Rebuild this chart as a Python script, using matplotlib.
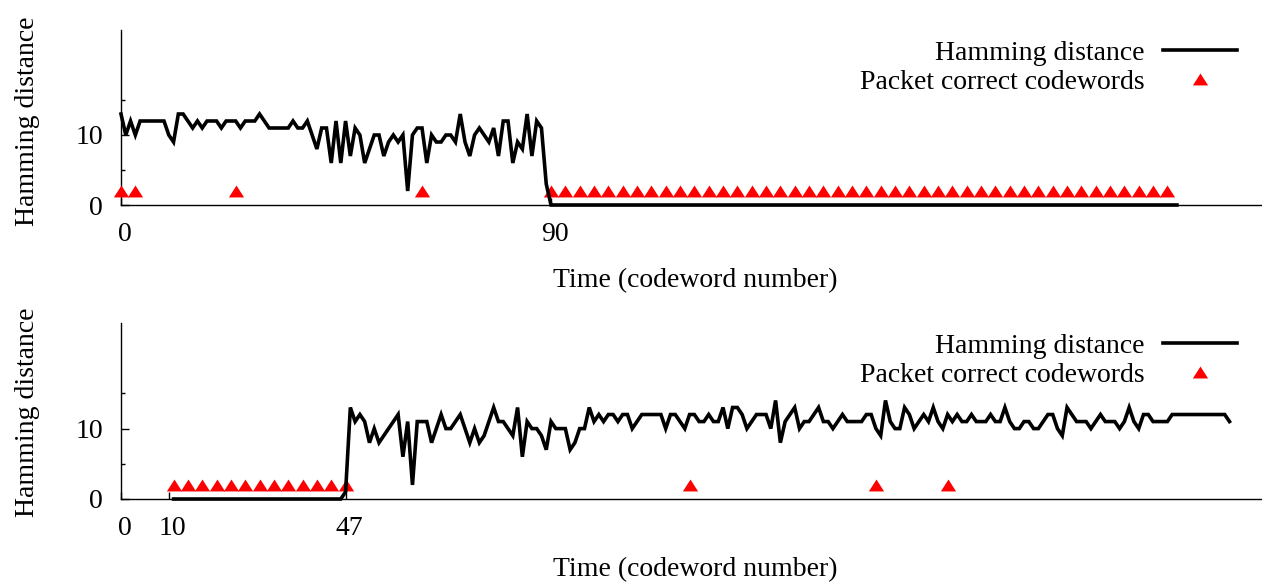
import numpy as np
import matplotlib
matplotlib.use("Agg")
import matplotlib.pyplot as plt
from matplotlib.ticker import FixedLocator
from matplotlib.transforms import ScaledTranslation

plt.rcParams['font.family'] = ['Liberation Serif', 'DejaVu Serif']
plt.rcParams['font.size'] = 20

# ---------------- data ----------------
top_start = 0
top_hamming = [
    13, 10, 12, 10, 12, 12, 12, 12, 12, 12,
    10, 9, 13, 13, 12, 11, 12, 11, 12, 12,
    12, 11, 12, 12, 12, 11, 12, 12, 12, 13,
    12, 11, 11, 11, 11, 11, 12, 11, 11, 12,
    10, 8, 11, 11, 6, 12, 6, 12, 7, 11,
    10, 6, 8, 10, 10, 7, 9, 10, 9, 10,
    2, 10, 11, 11, 6, 10, 9, 9, 10, 10,
    9, 13, 9, 7, 10, 11, 10, 9, 11, 7,
    12, 12, 6, 9, 8, 13, 7, 12, 11, 3,
    0, 0, 0, 0, 0, 0, 0, 0, 0, 0,
    0, 0, 0, 0, 0, 0, 0, 0, 0, 0,
    0, 0, 0, 0, 0, 0, 0, 0, 0, 0,
    0, 0, 0, 0, 0, 0, 0, 0, 0, 0,
    0, 0, 0, 0, 0, 0, 0, 0, 0, 0,
    0, 0, 0, 0, 0, 0, 0, 0, 0, 0,
    0, 0, 0, 0, 0, 0, 0, 0, 0, 0,
    0, 0, 0, 0, 0, 0, 0, 0, 0, 0,
    0, 0, 0, 0, 0, 0, 0, 0, 0, 0,
    0, 0, 0, 0, 0, 0, 0, 0, 0, 0,
    0, 0, 0, 0, 0, 0, 0, 0, 0, 0,
    0, 0, 0, 0, 0, 0, 0, 0, 0, 0,
    0, 0, 0, 0, 0, 0, 0, 0, 0, 0,
    0, 0,
]
top_correct_x = [0, 3, 24, 63,
                 90, 93, 96, 99, 102, 105, 108, 111, 114, 117, 120, 123, 126, 129,
                 132, 135, 138, 141, 144, 147, 150, 153, 156, 159, 162, 165, 168,
                 171, 174, 177, 180, 183, 186, 189, 192, 195, 198, 201, 204, 207,
                 210, 213, 216, 219]
top_correct_y = [2, 2, 2, 2,
                 2, 2, 2, 2, 2, 2, 2, 2, 2, 2, 2, 2, 2, 2,
                 2, 2, 2, 2, 2, 2, 2, 2, 2, 2, 2, 2, 2,
                 2, 2, 2, 2, 2, 2, 2, 2, 2, 2, 2, 2, 2,
                 2, 2, 2, 2]
top_xticks = [0, 90]

bot_start = 11
bot_hamming = [
    0, 0, 0, 0, 0, 0, 0, 0, 0,                       # 11-19
    0, 0, 0, 0, 0, 0, 0, 0, 0, 0,                    # 20-29
    0, 0, 0, 0, 0, 0, 0, 0, 0, 0,                    # 30-39
    0, 0, 0, 0, 0, 0, 0, 1,                          # 40-47
    13, 11, 12, 11, 8, 10, 8, 9, 10, 11,             # 48-57
    12, 6, 11, 2, 11, 11, 11, 8, 10, 12,             # 58-67
    10, 10, 11, 12, 10, 8, 10, 8, 9, 11,             # 68-77
    13, 11, 11, 10, 9, 13, 6, 11, 10, 10,            # 78-87
    9, 7, 11, 10, 10, 10, 7, 8, 10, 10,              # 88-97
    13, 11, 12, 11, 12, 12, 11, 12, 12, 10,          # 98-107
    11, 12, 12, 12, 12, 12, 10, 12, 12, 11,          # 108-117
    10, 12, 12, 11, 11, 12, 11, 11, 13, 10,          # 118-127
    13, 13, 12, 10, 11, 12, 12, 12, 10, 14,          # 128-137
    8, 11, 12, 13, 10, 11, 11, 12, 13, 11,           # 138-147
    11, 10, 11, 12, 11, 11, 11, 11, 12, 12,          # 148-157
    10, 9, 14, 11, 10, 10, 13, 12, 10, 11,           # 158-167
    12, 11, 13, 11, 10, 12, 11, 12, 11, 11,          # 168-177
    12, 11, 11, 11, 12, 11, 11, 13, 11, 10,          # 178-187
    10, 11, 11, 10, 10, 11, 12, 12, 10, 9,           # 188-197
    13, 12, 11, 11, 11, 10, 11, 12, 11, 11,          # 198-207
    11, 10, 11, 13, 11, 10, 12, 12, 11, 11,          # 208-217
    11, 11, 12, 12, 12, 12, 12, 12, 12, 12,          # 218-227
    12, 12, 12, 12, 11,                              # 228-232
]
bot_correct_x = [11, 14, 17, 20, 23, 26, 29, 32, 35, 38, 41, 44, 47, 119, 158, 173]
bot_correct_y = [2, 2, 2, 2, 2, 2, 2, 2, 2, 2, 2, 2, 2, 2, 2, 2]
bot_xticks = [0, 10, 47]

yticks_major = [0, 10]
yticks_minor = [5, 15]

# ---------------- figure ----------------
W, H = 1262, 582
fig = plt.figure(figsize=(W / 100, H / 100), dpi=100)
px_per_cw = 4.778
x_max = (W - 121) / px_per_cw

tri = [(-1, -0.78), (1, -0.78), (0, 0.78)]


def panel(rect, start, ham, cx, cy, xt, ylab_y, xlab_y):
    ax = fig.add_axes(rect)
    xs = np.arange(start, start + len(ham))
    mk, = ax.plot(cx, cy, linestyle='none', marker=tri, ms=11,
                  color='#ff0000', mec='none', clip_on=False, zorder=3,
                  label='Packet correct codewords')
    ln, = ax.plot(xs, ham, color='black', lw=2.6, clip_on=False, zorder=4,
                  solid_joinstyle='miter', label='Hamming distance')
    ax.set_xlim(0, x_max)
    ax.set_ylim(0, 25)
    for s in ('top', 'right'):
        ax.spines[s].set_visible(False)
    for s in ('left', 'bottom'):
        ax.spines[s].set_linewidth(1.0)
        ax.spines[s].set_zorder(2)
    ax.set_xticks(xt)
    ax.set_yticks(yticks_major)
    ax.yaxis.set_minor_locator(FixedLocator(yticks_minor))
    ax.tick_params(axis='x', direction='in', length=5, width=1, pad=12, labelsize=20)
    ax.tick_params(axis='y', which='major', direction='in', length=6, width=1, pad=13, labelsize=20)
    ax.tick_params(axis='y', which='minor', direction='in', length=3, width=1)
    shift = ScaledTranslation(4 / 100, 0, fig.dpi_scale_trans)
    for lab in ax.get_xticklabels():
        lab.set_transform(lab.get_transform() + shift)
    ax.set_ylabel('Hamming distance', fontsize=20)
    ax.yaxis.label.set_va('center')
    ax.yaxis.set_label_coords(-0.082, ylab_y)
    ax.set_xlabel('Time (codeword number)', fontsize=20)
    ax.xaxis.label.set_va('center')
    ax.xaxis.set_label_coords(0.503, xlab_y)
    ax.legend(handles=[ln, mk], loc='upper right', bbox_to_anchor=(0.978, 0.94),
              frameon=False, markerfirst=False, handlelength=2.67,
              handletextpad=0.65, labelspacing=0.13, borderpad=0,
              borderaxespad=0, fontsize=20, numpoints=1)
    return ax


panel([121 / W, 1 - 205 / H, (W - 121) / W, 175 / H], top_start, top_hamming,
      top_correct_x, top_correct_y, top_xticks, 0.477, -0.43)
panel([121 / W, 1 - 499 / H, (W - 121) / W, 176 / H], bot_start, bot_hamming,
      bot_correct_x, bot_correct_y, bot_xticks, 0.491, -0.40)

fig.savefig('out.png', dpi=100)
